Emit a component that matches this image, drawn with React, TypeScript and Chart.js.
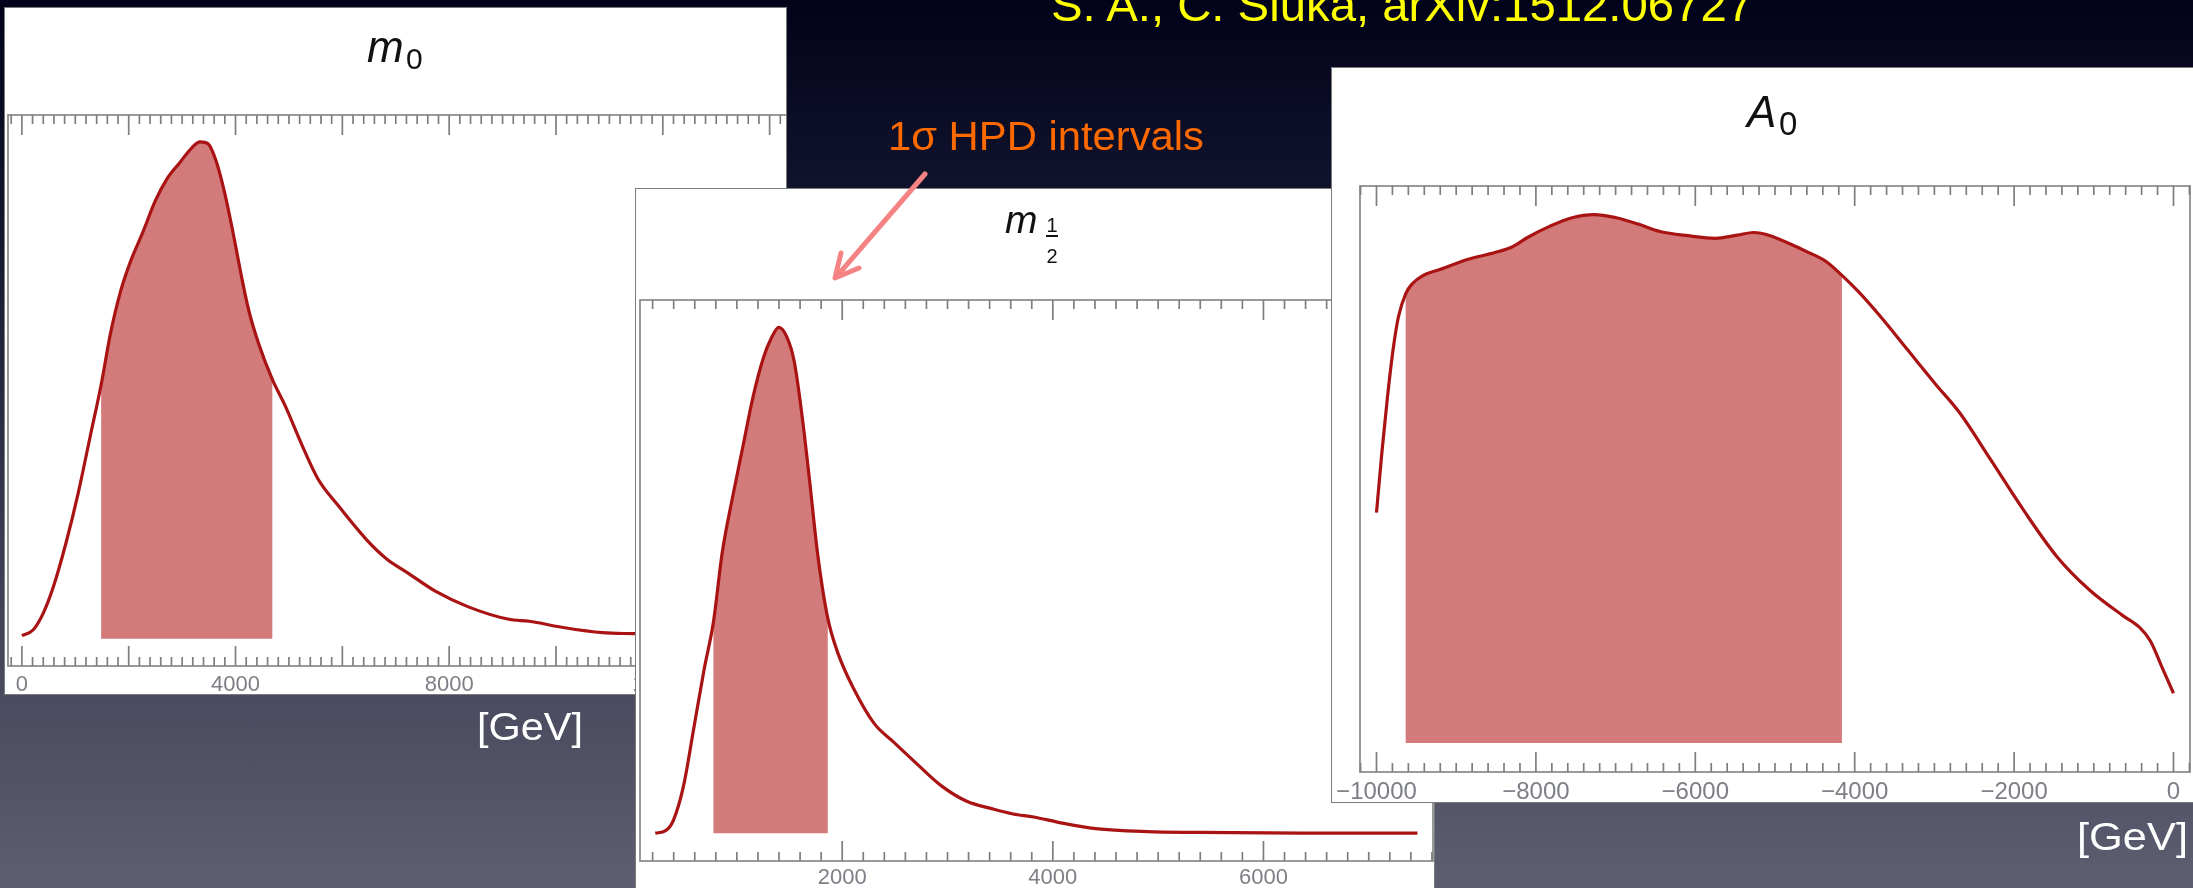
import React, { useEffect, useRef } from 'react';
import { Chart, registerables } from 'chart.js';

// ---------- data (density normalised to peak = 1) ----------
const M0_X = [0, 213, 403, 594, 822, 1050, 1279, 1484, 1660, 1850, 2040, 2268, 2497, 2725, 2954, 3182, 3334, 3486, 3638, 3791, 3943, 4095, 4247, 4438, 4689, 4933, 5238, 5541, 5922, 6455, 6836, 7216, 7749, 8358, 9119, 9500, 10109, 10870, 11479];
const M0_Y = [0.006, 0.018, 0.052, 0.106, 0.191, 0.291, 0.407, 0.511, 0.615, 0.7, 0.761, 0.819, 0.881, 0.927, 0.958, 0.988, 1.0, 0.996, 0.961, 0.9, 0.823, 0.738, 0.661, 0.592, 0.522, 0.468, 0.391, 0.322, 0.268, 0.199, 0.16, 0.133, 0.095, 0.064, 0.039, 0.035, 0.023, 0.012, 0.01];
const M0_BAND = [1484, 4689];
const M0_LABELS = [0, 4000, 8000, 12000];
const M0_MAJOR = [0, 2000, 4000, 6000, 8000, 10000, 12000, 14000];
const M0_RANGE = [-260, 14400];

const M12_X = [225, 323, 396, 494, 592, 690, 777, 861, 958, 1056, 1154, 1252, 1325, 1398, 1472, 1545, 1619, 1692, 1765, 1863, 1961, 2108, 2303, 2499, 2694, 2939, 3183, 3428, 3623, 3819, 4064, 4406, 4895, 5384, 6362, 7462];
const M12_Y = [0.0, 0.005, 0.025, 0.094, 0.209, 0.325, 0.417, 0.555, 0.663, 0.763, 0.863, 0.94, 0.978, 1.0, 0.982, 0.932, 0.825, 0.694, 0.555, 0.425, 0.355, 0.286, 0.217, 0.178, 0.14, 0.094, 0.063, 0.048, 0.038, 0.032, 0.021, 0.009, 0.003, 0.0015, 0.0, 0.0];
const M12_BAND = [777, 1863];
const M12_LABELS = [2000, 4000, 6000];
const M12_MAJOR = [0, 2000, 4000, 6000, 8000];
const M12_RANGE = [80, 7610];

const A0_X = [-10000, -9931, -9862, -9793, -9724, -9634, -9551, -9413, -9205, -8860, -8514, -8307, -8100, -7823, -7547, -7270, -6994, -6717, -6441, -6095, -5750, -5473, -5266, -5059, -4851, -4575, -4368, -4160, -3953, -3677, -3331, -2985, -2674, -2294, -1879, -1465, -1050, -636, -429, -290, -152, 0];
const A0_Y = [0.436, 0.552, 0.655, 0.743, 0.807, 0.85, 0.869, 0.885, 0.896, 0.915, 0.928, 0.938, 0.957, 0.978, 0.994, 1.0, 0.994, 0.982, 0.968, 0.96, 0.955, 0.961, 0.966, 0.96, 0.947, 0.928, 0.912, 0.885, 0.854, 0.807, 0.743, 0.679, 0.623, 0.536, 0.44, 0.353, 0.289, 0.241, 0.219, 0.193, 0.146, 0.094];
const A0_BAND = [-9634, -4160];
const A0_LABELS = [-10000, -8000, -6000, -4000, -2000, 0];
const A0_MAJOR = [-10000, -8000, -6000, -4000, -2000, 0];
const A0_RANGE = [-10207, 207];

const MINOR_STEP = 200;
const Y_RANGE = [-0.055, 1.054];

// ---------- styles ----------
const LINE_COLOR = '#aa1313';
const SHADE_COLOR = '#d37b7a';
const FRAME_COLOR = '#8e8e8e';
const TICK_COLOR = '#7e7e7e';
const LABEL_COLOR = '#7d7f86';
const FONT = "'Liberation Sans', Arial, Helvetica, sans-serif";

// plugin registered before the built-ins so its clip wraps the Filler's drawing
const bandClip = {
  id: 'bandClip',
  beforeDatasetDraw(chart: any, args: any) {
    const ds = chart.data.datasets[args.index];
    if (!ds || !ds.band) return;
    const xs = chart.scales.x;
    const a = chart.chartArea;
    const l = xs.getPixelForValue(ds.band[0]);
    const r = xs.getPixelForValue(ds.band[1]);
    chart.ctx.save();
    chart.ctx.beginPath();
    chart.ctx.rect(l, a.top, r - l, a.bottom - a.top);
    chart.ctx.clip();
  },
  afterDatasetDraw(chart: any, args: any) {
    const ds = chart.data.datasets[args.index];
    if (!ds || !ds.band) return;
    chart.ctx.restore();
  },
};
Chart.register(bandClip as any);
Chart.register(...registerables);

const fmt = (v: number) => (v < 0 ? '\u2212' + String(-v) : String(v));

type PanelProps = {
  xs: number[];
  ys: number[];
  band: number[];
  labels: number[];
  majors: number[];
  range: number[];
  box: number[]; // left, top, width, height
  canvasLeft: number;
  canvasW: number;
  canvasH: number;
  pad: { left: number; top: number; right: number; bottom: number };
  fontSize: number;
  tickPad: number;
};

function Panel(p: PanelProps) {
  const ref = useRef<HTMLCanvasElement | null>(null);
  useEffect(() => {
    const pts = p.xs.map((x, i) => ({ x, y: p.ys[i] }));
    const minors: number[] = [];
    for (let k = Math.ceil(p.range[0] / MINOR_STEP); k <= Math.floor(p.range[1] / MINOR_STEP); k++) {
      const v = k * MINOR_STEP;
      if (v % 2000 !== 0) minors.push(v);
    }
    const frame = {
      id: 'frame',
      afterDatasetsDraw(chart: any) {
        const { ctx, chartArea: a } = chart;
        const xs = chart.scales.x;
        ctx.save();
        ctx.strokeStyle = FRAME_COLOR;
        ctx.lineWidth = 1.8;
        ctx.strokeRect(a.left, a.top, a.right - a.left, a.bottom - a.top);
        ctx.strokeStyle = TICK_COLOR;
        ctx.lineWidth = 1.7;
        const draw = (v: number, len: number) => {
          const px = xs.getPixelForValue(v);
          if (px < a.left || px > a.right) return;
          ctx.beginPath();
          ctx.moveTo(px, a.top);
          ctx.lineTo(px, a.top + len);
          ctx.moveTo(px, a.bottom);
          ctx.lineTo(px, a.bottom - len);
          ctx.stroke();
        };
        p.majors.forEach((v) => draw(v, 20));
        minors.forEach((v) => draw(v, 9));
        ctx.restore();
      },
    };
    const chart = new Chart(ref.current as HTMLCanvasElement, {
      type: 'line',
      data: {
        datasets: [
          {
            data: pts,
            borderColor: LINE_COLOR,
            borderWidth: 3.2,
            pointRadius: 0,
            fill: false,
            cubicInterpolationMode: 'monotone',
          } as any,
          {
            data: pts,
            band: p.band,
            borderWidth: 0,
            borderColor: 'rgba(0,0,0,0)',
            backgroundColor: SHADE_COLOR,
            pointRadius: 0,
            fill: 'origin',
            cubicInterpolationMode: 'monotone',
          } as any,
        ],
      },
      options: {
        animation: false,
        responsive: false,
        events: [],
        layout: { padding: p.pad },
        plugins: { legend: { display: false }, tooltip: { enabled: false }, title: { display: false } },
        scales: {
          x: {
            type: 'linear',
            min: p.range[0],
            max: p.range[1],
            grid: { display: false, drawTicks: false },
            border: { display: false },
            afterBuildTicks: (axis: any) => {
              axis.ticks = p.labels.map((v) => ({ value: v }));
            },
            ticks: {
              autoSkip: false,
              maxRotation: 0,
              minRotation: 0,
              padding: p.tickPad,
              color: LABEL_COLOR,
              font: { family: FONT, size: p.fontSize },
              callback: (v: any) => fmt(Number(v)),
            },
          },
          y: { type: 'linear', display: false, min: Y_RANGE[0], max: Y_RANGE[1] },
        },
      } as any,
      plugins: [frame as any],
    });
    return () => chart.destroy();
  }, []);
  return (
    <div
      style={{
        position: 'absolute',
        left: p.box[0],
        top: p.box[1],
        width: p.box[2],
        height: p.box[3],
        background: '#ffffff',
        overflow: 'hidden',
        outline: '1px solid #7a7a7a',
      }}
    >
      <canvas
        ref={ref}
        width={p.canvasW}
        height={p.canvasH}
        style={{ position: 'absolute', left: p.canvasLeft, top: 0, width: p.canvasW, height: p.canvasH }}
      />
    </div>
  );
}

export default function App() {
  const W = 2193;
  const H = 888;
  return (
    <div
      style={{
        position: 'fixed',
        left: 0,
        top: 0,
        width: W,
        height: H,
        overflow: 'hidden',
        background: 'linear-gradient(180deg, #02031a 0%, #141630 25%, #3a3a52 60%, #5e5e71 100%)',
      }}
    >
      <Panel
        xs={M0_X}
        ys={M0_Y}
        band={M0_BAND}
        labels={M0_LABELS}
        majors={M0_MAJOR}
        range={M0_RANGE}
        box={[5, 8, 781, 686]}
        canvasLeft={0}
        canvasW={790}
        canvasH={696}
        pad={{ left: 3, top: 107, right: 4, bottom: 0 }}
        fontSize={22}
        tickPad={5.8}
      />
      <Panel
        xs={M12_X}
        ys={M12_Y}
        band={M12_BAND}
        labels={M12_LABELS}
        majors={M12_MAJOR}
        range={M12_RANGE}
        box={[636, 189, 798, 699]}
        canvasLeft={0}
        canvasW={800}
        canvasH={706}
        pad={{ left: 4, top: 111, right: 3, bottom: 0 }}
        fontSize={22}
        tickPad={3.8}
      />
      <Panel
        xs={A0_X}
        ys={A0_Y}
        band={A0_BAND}
        labels={A0_LABELS}
        majors={A0_MAJOR}
        range={A0_RANGE}
        box={[1332, 68, 861, 734]}
        canvasLeft={-10}
        canvasW={872}
        canvasH={744}
        pad={{ left: 38, top: 118, right: 4, bottom: 0 }}
        fontSize={24}
        tickPad={5.6}
      />
      <svg
        width={W}
        height={H}
        style={{ position: 'absolute', left: 0, top: 0, pointerEvents: 'none' }}
        fontFamily={FONT}
      >
        <text x={1051} y={21} fontSize={46} fill="#ffff00" textLength={702} lengthAdjust="spacingAndGlyphs">
          S. A., C. Sluka, arXiv:1512.06727
        </text>
        <text x={888} y={150} fontSize={40} fill="#ff6a00" textLength={316} lengthAdjust="spacingAndGlyphs">
          1σ HPD intervals
        </text>
        <line x1={925} y1={174} x2={837} y2={276} stroke="#f58383" strokeWidth={5} strokeLinecap="round" />
        <polyline
          points="841,253 835,278 859,268"
          fill="none"
          stroke="#f58383"
          strokeWidth={5}
          strokeLinecap="round"
          strokeLinejoin="round"
        />
        <text x={477} y={740} fontSize={39} fill="#ffffff" textLength={106} lengthAdjust="spacingAndGlyphs">
          [GeV]
        </text>
        <text x={2077} y={850} fontSize={38} fill="#ffffff" textLength={111} lengthAdjust="spacingAndGlyphs">
          [GeV]
        </text>
        {/* panel titles */}
        <text x={367} y={62} fontSize={44} fontStyle="italic" fill="#111">m</text>
        <text x={406} y={69} fontSize={30} fill="#111">0</text>
        <text x={1005} y={233} fontSize={39} fontStyle="italic" fill="#111">m</text>
        <text x={1052} y={232} fontSize={20} textAnchor="middle" fill="#111">1</text>
        <line x1={1046} y1={236} x2={1058} y2={236} stroke="#111" strokeWidth={2} />
        <text x={1052} y={263} fontSize={20} textAnchor="middle" fill="#111">2</text>
        <text x={1747} y={127} fontSize={44} fontStyle="italic" fill="#111">A</text>
        <text x={1779} y={135} fontSize={33} fill="#111">0</text>
      </svg>
    </div>
  );
}
